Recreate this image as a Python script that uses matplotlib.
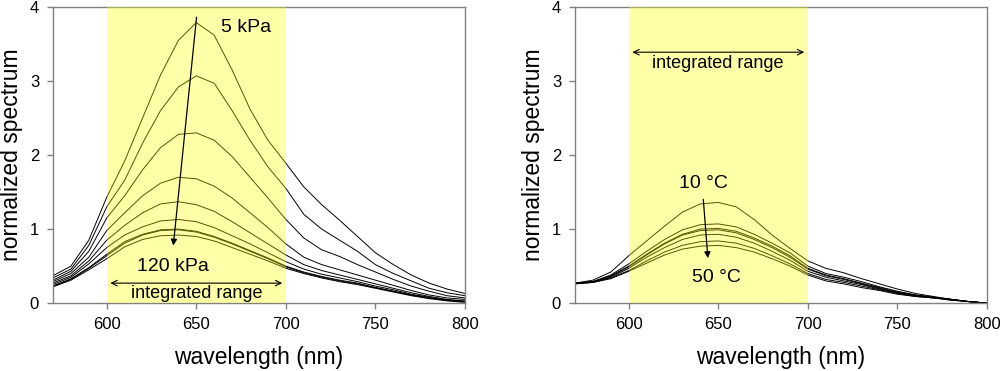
import numpy as np
import matplotlib
matplotlib.use("Agg")
import matplotlib.pyplot as plt

plt.rcParams['font.family'] = ['Liberation Sans', 'DejaVu Sans']

wavelength = [570, 580, 590, 600, 610, 620, 630, 640, 650, 660, 670, 680,
              690, 700, 710, 720, 730, 740, 750, 760, 770, 780, 790, 800]

# left panel: pressure series, 5 kPa (top) ... 120 kPa (bottom)
p_05 = [0.37, 0.50, 0.85, 1.43, 1.92, 2.50, 3.08, 3.55, 3.79, 3.62, 3.15, 2.62,
        2.20, 1.89, 1.57, 1.33, 1.12, 0.90, 0.68, 0.52, 0.38, 0.27, 0.19, 0.13]
p_02 = [0.34, 0.46, 0.78, 1.30, 1.66, 2.16, 2.60, 2.92, 3.07, 2.97, 2.60, 2.20,
        1.84, 1.55, 1.20, 1.00, 0.85, 0.70, 0.52, 0.40, 0.30, 0.20, 0.14, 0.10]
p_03 = [0.31, 0.43, 0.70, 1.15, 1.45, 1.80, 2.10, 2.28, 2.30, 2.20, 1.98, 1.70,
        1.42, 1.13, 0.88, 0.72, 0.63, 0.52, 0.42, 0.32, 0.23, 0.16, 0.10, 0.07]
p_04 = [0.29, 0.40, 0.62, 0.98, 1.22, 1.45, 1.62, 1.70, 1.68, 1.58, 1.42, 1.22,
        1.02, 0.80, 0.62, 0.52, 0.45, 0.38, 0.31, 0.24, 0.17, 0.11, 0.07, 0.05]
p_05b = [0.27, 0.37, 0.57, 0.85, 1.05, 1.22, 1.34, 1.37, 1.33, 1.24, 1.10, 0.95,
         0.80, 0.65, 0.52, 0.44, 0.38, 0.32, 0.26, 0.20, 0.14, 0.09, 0.05, 0.03]
p_06 = [0.25, 0.35, 0.53, 0.75, 0.92, 1.03, 1.11, 1.13, 1.10, 1.02, 0.91, 0.80,
        0.68, 0.56, 0.46, 0.39, 0.34, 0.29, 0.23, 0.18, 0.12, 0.08, 0.04, 0.02]
p_07 = [0.23, 0.33, 0.48, 0.66, 0.83, 0.93, 0.99, 1.00, 0.97, 0.90, 0.81, 0.71,
        0.61, 0.50, 0.42, 0.36, 0.31, 0.27, 0.21, 0.16, 0.11, 0.07, 0.04, 0.02]
p_08 = [0.23, 0.32, 0.47, 0.64, 0.81, 0.92, 0.98, 0.99, 0.96, 0.89, 0.80, 0.70,
        0.60, 0.49, 0.41, 0.35, 0.30, 0.26, 0.21, 0.16, 0.11, 0.07, 0.04, 0.02]
p_09 = [0.22, 0.31, 0.45, 0.60, 0.76, 0.86, 0.91, 0.92, 0.90, 0.84, 0.75, 0.66,
        0.57, 0.47, 0.40, 0.34, 0.29, 0.25, 0.20, 0.15, 0.10, 0.06, 0.03, 0.01]
pressure_curves = [p_05, p_02, p_03, p_04, p_05b, p_06, p_07, p_08, p_09]

# right panel: temperature series, 10 C (top) ... 50 C (bottom)
t_1 = [0.27, 0.31, 0.42, 0.64, 0.84, 1.04, 1.23, 1.34, 1.36, 1.30, 1.13, 0.92,
       0.74, 0.57, 0.47, 0.41, 0.33, 0.26, 0.19, 0.13, 0.09, 0.05, 0.02, 0.00]
t_2 = [0.27, 0.29, 0.38, 0.53, 0.70, 0.86, 0.99, 1.06, 1.07, 1.03, 0.93, 0.81,
       0.68, 0.50, 0.40, 0.35, 0.29, 0.22, 0.16, 0.11, 0.08, 0.05, 0.02, 0.00]
t_3 = [0.27, 0.29, 0.37, 0.50, 0.66, 0.81, 0.93, 1.00, 1.01, 0.97, 0.88, 0.77,
       0.64, 0.47, 0.38, 0.33, 0.27, 0.21, 0.15, 0.11, 0.08, 0.05, 0.02, 0.00]
t_4 = [0.27, 0.29, 0.36, 0.49, 0.65, 0.80, 0.92, 0.98, 0.99, 0.95, 0.86, 0.75,
       0.62, 0.46, 0.37, 0.32, 0.26, 0.20, 0.14, 0.10, 0.08, 0.05, 0.02, 0.00]
t_5 = [0.27, 0.28, 0.35, 0.47, 0.62, 0.75, 0.86, 0.92, 0.93, 0.89, 0.81, 0.70,
       0.58, 0.43, 0.35, 0.30, 0.25, 0.19, 0.14, 0.10, 0.07, 0.05, 0.02, 0.00]
t_6 = [0.26, 0.28, 0.34, 0.44, 0.57, 0.69, 0.78, 0.83, 0.84, 0.81, 0.74, 0.64,
       0.53, 0.40, 0.32, 0.28, 0.23, 0.18, 0.13, 0.09, 0.07, 0.04, 0.02, 0.00]
t_7 = [0.26, 0.28, 0.33, 0.43, 0.54, 0.65, 0.73, 0.77, 0.78, 0.75, 0.69, 0.60,
       0.50, 0.38, 0.30, 0.26, 0.21, 0.17, 0.12, 0.09, 0.07, 0.04, 0.02, 0.00]
temperature_curves = [t_1, t_2, t_3, t_4, t_5, t_6, t_7]

x_ticks = [600, 650, 700, 750, 800]
y_ticks = [0, 1, 2, 3, 4]
band = (600, 700)

fig = plt.figure(figsize=(10, 3.71), dpi=100)
ax1 = fig.add_axes([0.053, 0.183, 0.412, 0.798])
ax2 = fig.add_axes([0.575, 0.183, 0.412, 0.798])


def style_axis(ax):
    ax.set_xlim(570, 800)
    ax.set_ylim(0, 4)
    ax.set_xticks(x_ticks)
    ax.set_yticks(y_ticks)
    for s in ax.spines.values():
        s.set_color('#808080')
        s.set_linewidth(1.0)
    ax.tick_params(direction='out', length=4, width=1, color='#808080',
                   labelsize=12, pad=6)
    ax.set_xlabel('wavelength (nm)', fontsize=16.5, labelpad=10)
    ax.set_ylabel('normalized spectrum', fontsize=16.5, labelpad=5)
    # translucent yellow band drawn over the curves
    ax.axvspan(band[0], band[1], color='yellow', alpha=0.34, lw=0, zorder=3)


for y in pressure_curves:
    ax1.plot(wavelength, y, color='black', lw=0.7, zorder=2)
style_axis(ax1)
ax1.annotate('', xy=(637, 0.74), xytext=(650.3, 3.9),
             arrowprops=dict(arrowstyle='-|>', color='black', lw=0.9,
                             mutation_scale=9), zorder=5)
ax1.text(678, 3.73, '5 kPa', fontsize=14, ha='center', va='center', zorder=5)
ax1.text(637, 0.5, '120 kPa', fontsize=14, ha='center', va='center', zorder=5)
ax1.annotate('', xy=(600.5, 0.27), xytext=(699.5, 0.27),
             arrowprops=dict(arrowstyle='<->', color='black', lw=0.8,
                             mutation_scale=10), zorder=5)
ax1.text(650, 0.13, 'integrated range', fontsize=13, ha='center', va='center', zorder=5)

for y in temperature_curves:
    ax2.plot(wavelength, y, color='black', lw=0.7, zorder=2)
style_axis(ax2)
ax2.annotate('', xy=(644.3, 0.57), xytext=(641.5, 1.44),
             arrowprops=dict(arrowstyle='-|>', color='black', lw=0.9,
                             mutation_scale=9), zorder=5)
ax2.text(641.5, 1.62, '10 \u00b0C', fontsize=14, ha='center', va='center', zorder=5)
ax2.text(649, 0.35, '50 \u00b0C', fontsize=14, ha='center', va='center', zorder=5)
ax2.annotate('', xy=(600.5, 3.39), xytext=(699.5, 3.39),
             arrowprops=dict(arrowstyle='<->', color='black', lw=0.8,
                             mutation_scale=10), zorder=5)
ax2.text(649.5, 3.24, 'integrated range', fontsize=13, ha='center', va='center', zorder=5)

fig.savefig('out.png', dpi=100)
